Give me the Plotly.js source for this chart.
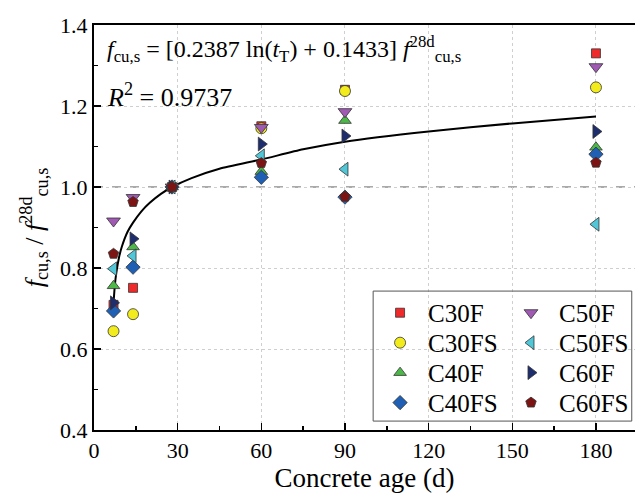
<!DOCTYPE html>
<html>
<head>
<meta charset="utf-8">
<script src="https://cdn.plot.ly/plotly-3.0.1.min.js"></script>
<style>
html,body{margin:0;padding:0;background:#fff;}
#chart{width:635px;height:494px;}
</style>
</head>
<body>
<div id="chart"></div>
<script>
// Concrete age (d)
var ages = [7, 14, 28, 60, 90, 180];
// Strength ratio f_cu,s / f_cu,s^28d
var C30F  = [0.709, 0.751, 1.0, 1.150, 1.240, 1.330];
var C30FS = [0.644, 0.686, 1.0, 1.145, 1.237, 1.246];
var C40F  = [0.756, 0.852, 1.0, 1.038, 1.164, 1.098];
var C40FS = [0.694, 0.802, 1.0, 1.024, 0.975, 1.081];
var C50F  = [0.916, 0.974, 1.0, 1.147, 1.186, 1.297];
var C50FS = [0.798, 0.830, 1.0, 1.077, 1.044, 0.908];
var C60F  = [0.714, 0.872, 1.0, 1.106, 1.126, 1.137];
var C60FS = [0.835, 0.963, 1.0, 1.059, 0.976, 1.060];
// Fitted curve
var fitAge   = [7, 7.5, 8, 9, 10, 12, 14, 17, 20, 24, 28, 35, 45, 60, 75, 90, 120, 150, 180];
var fitRatio = [0.714, 0.759, 0.788, 0.827, 0.853, 0.889, 0.912, 0.940, 0.961, 0.983, 1.0, 1.022, 1.045, 1.068, 1.093, 1.112, 1.137, 1.157, 1.174];

var seriesNames = ['C30F','C30FS','C40F','C40FS','C50F','C50FS','C60F','C60FS'];
var seriesVals  = [C30F, C30FS, C40F, C40FS, C50F, C50FS, C60F, C60FS];
var symbols = ['square','circle','triangle-up','diamond','triangle-down','triangle-left','triangle-right','pentagon'];
var colors  = ['#f02a2a','#f2ec1c','#4cb848','#1f5fb4','#a05ab4','#50c6d6','#1e2d6e','#7d1414'];
var sizes   = [9, 11, 11, 11, 12, 12, 12, 11];

var serif = 'Liberation Serif';

var traces = [{
  x: fitAge, y: fitRatio, mode: 'lines', type: 'scatter',
  line: {color: '#000', width: 2, shape: 'spline', smoothing: 0.6},
  showlegend: false, hoverinfo: 'skip'
}];
var legendIds = [];
for (var i = 0; i < seriesNames.length; i++) {
  var lid = i === 0 ? 'legend' : 'legend' + (i + 1);
  legendIds.push(lid);
  traces.push({
    x: ages, y: seriesVals[i], name: seriesNames[i], mode: 'markers', type: 'scatter',
    marker: {symbol: symbols[i], color: colors[i], size: sizes[i], line: {color: '#333', width: 0.8}},
    legend: lid
  });
}

var layout = {
  width: 635, height: 494,
  margin: {l: 94, r: 0, t: 25, b: 64},
  paper_bgcolor: '#fff', plot_bgcolor: '#fff',
  font: {family: serif, color: '#000'},
  xaxis: {
    range: [0, 194], tickvals: [0, 30, 60, 90, 120, 150, 180],
    ticks: 'inside', ticklen: 7, tickwidth: 1.5, tickcolor: '#000',
    minor: {tickvals: [15, 45, 75, 105, 135, 165], ticks: 'inside', ticklen: 4, tickwidth: 1.5, tickcolor: '#000', showgrid: false},
    showline: true, linecolor: '#000', linewidth: 2, mirror: true,
    showgrid: true, gridcolor: '#cfcfcf', griddash: 'dot', gridwidth: 1,
    zeroline: false,
    tickfont: {family: serif, size: 22, color: '#000'},
    title: {text: 'Concrete age (d)', font: {family: serif, size: 27, color: '#000'}, standoff: 2}
  },
  yaxis: {
    range: [0.4, 1.4], tickvals: [0.4, 0.6, 0.8, 1.0, 1.2, 1.4], ticktext: ['0.4','0.6','0.8','1.0','1.2','1.4'],
    ticks: 'inside', ticklen: 7, tickwidth: 1.5, tickcolor: '#000',
    minor: {tickvals: [0.5, 0.7, 0.9, 1.1, 1.3], ticks: 'inside', ticklen: 4, tickwidth: 1.5, tickcolor: '#000', showgrid: false},
    showline: true, linecolor: '#000', linewidth: 2, mirror: false,
    showgrid: true, gridcolor: '#cfcfcf', griddash: 'dot', gridwidth: 1,
    zeroline: false,
    tickfont: {family: serif, size: 22, color: '#000'},
    title: {text: '<i>f</i><sub>cu,s</sub> / <i>f</i><sup>28d</sup><sub>cu,s</sub>', font: {family: serif, size: 26, color: '#000'}, standoff: 9}
  },
  shapes: [
    {type: 'line', xref: 'paper', x0: 0, x1: 1, yref: 'y', y0: 1.0, y1: 1.0,
     line: {color: '#555', width: 1, dash: 'dash'}, layer: 'below'},
    {type: 'rect', xref: 'paper', yref: 'paper', x0: 0.516, x1: 0.994, y0: 0.022, y1: 0.343,
     line: {color: '#555', width: 1}, fillcolor: 'rgba(0,0,0,0)'}
  ],
  annotations: [
    {xref: 'paper', yref: 'paper', x: 0.02, y: 0.94, xanchor: 'left', yanchor: 'middle', showarrow: false,
     text: '<i>f</i><sub>cu,s</sub> = [0.2387 ln(<i>t</i><sub>T</sub>) + 0.1433] <i>f</i><sup>28d</sup><sub>cu,s</sub>',
     font: {family: serif, size: 24, color: '#000'}},
    {xref: 'paper', yref: 'paper', x: 0.02, y: 0.825, xanchor: 'left', yanchor: 'middle', showarrow: false,
     text: '<i>R</i><sup>2</sup> = 0.9737',
     font: {family: serif, size: 26, color: '#000'}}
  ]
};

// one single-entry legend per series: 2 columns x 4 rows inside the framed box
var legendX = [0.514, 0.756];
var legendY = [0.289, 0.215, 0.141, 0.067];
for (var j = 0; j < legendIds.length; j++) {
  layout[legendIds[j]] = {
    bgcolor: 'rgba(0,0,0,0)', borderwidth: 0,
    font: {family: serif, size: 25, color: '#000'},
    xref: 'paper', yref: 'paper', xanchor: 'left', yanchor: 'middle',
    itemwidth: 46,
    x: legendX[Math.floor(j / 4)], y: legendY[j % 4]
  };
}

Plotly.newPlot('chart', traces, layout, {displayModeBar: false, staticPlot: true});
</script>
</body>
</html>
